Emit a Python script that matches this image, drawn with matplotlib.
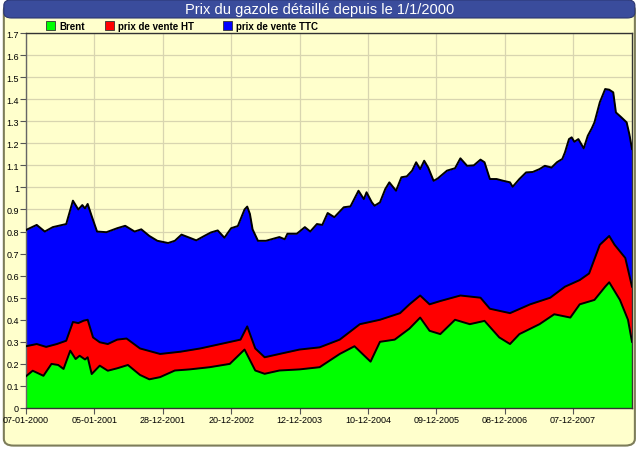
import numpy as np
import matplotlib
matplotlib.use('Agg')
import matplotlib.pyplot as plt
from matplotlib.patches import FancyBboxPatch, Rectangle

# x = rang du point (une graduation tous les 51 points)
tick_pos = [0, 51, 102, 153, 204, 255, 306, 357, 408]
tick_labels = ['07-01-2000', '05-01-2001', '28-12-2001', '20-12-2002', '12-12-2003',
               '10-12-2004', '09-12-2005', '08-12-2006', '07-12-2007']

# prix de vente TTC
ttc_x = [0, 8, 14, 20, 30, 35, 39, 42, 44, 46, 49, 53, 60, 68, 74, 81, 86, 92, 98, 106,
         111, 116, 122, 127, 133, 138, 143, 148, 153, 158, 163, 165, 167, 169, 173, 179,
         186, 189, 193, 195, 202, 208, 212, 217, 221, 225, 230, 237, 242, 248, 252, 254,
         258, 260, 264, 268, 271, 276, 280, 284, 288, 291, 294, 297, 300, 304, 307, 314,
         320, 324, 329, 334, 339, 342, 346, 351, 356, 361, 363, 368, 373, 378, 383, 387,
         392, 396, 400, 402, 405, 407, 409, 412, 416, 419, 422, 424, 428, 432, 435, 438,
         440, 444, 448, 450, 452]
ttc_y = [0.807, 0.83, 0.80, 0.82, 0.834, 0.94, 0.90, 0.92, 0.905, 0.925, 0.87, 0.80, 0.797,
         0.815, 0.826, 0.80, 0.81, 0.78, 0.758, 0.748, 0.758, 0.786, 0.772, 0.76, 0.78, 0.796,
         0.805, 0.772, 0.815, 0.825, 0.90, 0.913, 0.88, 0.81, 0.758, 0.758, 0.77, 0.775, 0.765,
         0.79, 0.79, 0.82, 0.80, 0.834, 0.83, 0.884, 0.865, 0.91, 0.914, 0.985, 0.947, 0.978,
         0.932, 0.917, 0.932, 0.993, 1.023, 0.985, 1.046, 1.05, 1.076, 1.114, 1.083, 1.121,
         1.09, 1.03, 1.04, 1.076, 1.087, 1.132, 1.098, 1.10, 1.126, 1.114, 1.038, 1.038, 1.03,
         1.023, 1.003, 1.038, 1.068, 1.07, 1.083, 1.098, 1.09, 1.114, 1.129, 1.159, 1.219,
         1.227, 1.207, 1.219, 1.177, 1.234, 1.268, 1.295, 1.386, 1.446, 1.443, 1.431, 1.34,
         1.318, 1.295, 1.242, 1.174]

# prix de vente HT
ht_x = [0, 8, 15, 23, 30, 35, 39, 43, 46, 50, 55, 61, 68, 75, 85, 100, 115, 130, 145, 160,
        165, 171, 178, 189, 204, 219, 234, 249, 264, 279, 286, 294, 301, 309, 324, 339, 346,
        361, 376, 391, 402, 413, 420, 428, 435, 439, 447, 452]
ht_y = [0.28, 0.29, 0.277, 0.29, 0.305, 0.39, 0.385, 0.396, 0.40, 0.32, 0.298, 0.29, 0.31,
        0.315, 0.27, 0.245, 0.255, 0.27, 0.29, 0.31, 0.37, 0.27, 0.23, 0.245, 0.265, 0.275,
        0.31, 0.38, 0.40, 0.43, 0.47, 0.51, 0.47, 0.485, 0.51, 0.50, 0.45, 0.43, 0.47, 0.50,
        0.55, 0.58, 0.61, 0.74, 0.78, 0.74, 0.68, 0.55]

# Brent
brent_x = [0, 5, 13, 19, 24, 28, 33, 37, 40, 44, 46, 49, 55, 61, 68, 76, 85, 92, 100, 111,
           122, 137, 152, 163, 171, 178, 189, 204, 219, 234, 245, 257, 264, 275, 286, 294,
           301, 309, 320, 331, 342, 353, 361, 368, 383, 394, 406, 413, 424, 432, 435, 443,
           449, 452]
brent_y = [0.144, 0.169, 0.146, 0.20, 0.195, 0.177, 0.26, 0.222, 0.237, 0.22, 0.23, 0.154,
           0.192, 0.169, 0.18, 0.195, 0.15, 0.13, 0.14, 0.17, 0.175, 0.185, 0.20, 0.265, 0.17,
           0.155, 0.17, 0.175, 0.185, 0.245, 0.28, 0.21, 0.30, 0.31, 0.36, 0.41, 0.35, 0.335,
           0.40, 0.38, 0.395, 0.32, 0.29, 0.335, 0.38, 0.425, 0.41, 0.47, 0.49, 0.55, 0.57,
           0.49, 0.40, 0.30]

series = [
    ('prix de vente TTC', ttc_x, ttc_y, '#0000ff'),
    ('prix de vente HT', ht_x, ht_y, '#ff0000'),
    ('Brent', brent_x, brent_y, '#00ff00'),
]

plt.rcParams['font.family'] = ['Liberation Sans', 'DejaVu Sans']

fig = plt.figure(figsize=(6.4, 4.52), dpi=100, facecolor='white')

# cadre arrondi + bandeau de titre
fond = FancyBboxPatch((0.006, 0.012), 0.986, 0.978, boxstyle='round,pad=0,rounding_size=0.015',
                      transform=fig.transFigure, facecolor='#ffffcc',
                      edgecolor='#7d7d5a', linewidth=1.5, zorder=-10)
fig.add_artist(fond)
bandeau = FancyBboxPatch((0.006, 0.958), 0.986, 0.04, boxstyle='round,pad=0,rounding_size=0.012',
                         transform=fig.transFigure, facecolor='#3a4c9c',
                         edgecolor='#2a3570', linewidth=0.8, zorder=-5)
fig.add_artist(bandeau)
fig.text(0.5, 0.978, 'Prix du gazole détaillé depuis le 1/1/2000', color='white',
         ha='center', va='center', fontsize=10.5)

ax = fig.add_axes([26 / 640, 1 - 409 / 452, 606 / 640, 375 / 452])
ax.set_facecolor('#ffffcc')

for name, xs, ys, col in series:
    ax.fill_between(xs, 0, ys, color=col, linewidth=0, zorder=2)
    ax.plot(xs, ys, color='black', linewidth=1.4, zorder=3)

ax.set_xlim(0, 452)
ax.set_ylim(0, 1.7)
ax.set_yticks(np.arange(0, 1.71, 0.1))
ax.set_yticklabels(['%g' % v for v in np.round(np.arange(0, 1.71, 0.1), 1)])
ax.set_xticks(tick_pos)
ax.set_xticklabels(tick_labels)
ax.tick_params(labelsize=6.5, length=4, width=0.8, color='#555555', pad=1)
ax.grid(True, color='#d8d5b0', linewidth=0.9, zorder=1)
ax.set_axisbelow(True)
for s in ax.spines.values():
    s.set_color('#333333')
    s.set_linewidth(1.0)
ax.spines['left'].set_color('#666666')

# légende
leg = [('Brent', '#00ff00', 46), ('prix de vente HT', '#ff0000', 105),
       ('prix de vente TTC', '#0000ff', 223)]
for name, col, px in leg:
    fig.add_artist(Rectangle((px / 640, 1 - 31 / 452), 9 / 640, 9 / 452,
                             transform=fig.transFigure, facecolor=col,
                             edgecolor='#333333', linewidth=0.6))
    fig.text((px + 13) / 640, 1 - 26.5 / 452, name, fontsize=7, fontweight='bold',
             va='center', ha='left')

fig.savefig('out.png', dpi=100, facecolor=fig.get_facecolor())
